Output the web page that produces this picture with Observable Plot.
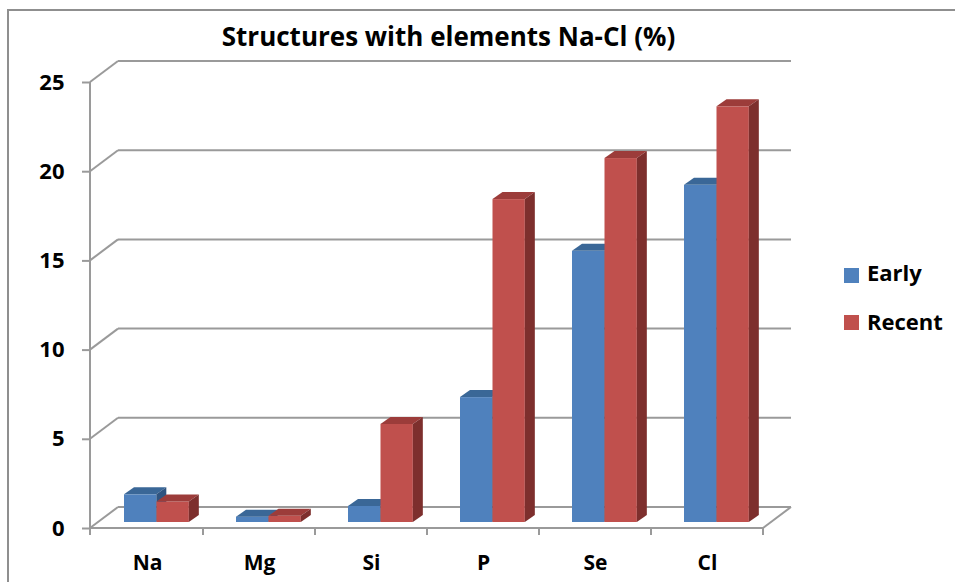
<!DOCTYPE html>
<html>
<head>
<meta charset="utf-8">
<script src="https://cdn.jsdelivr.net/npm/d3@7"></script>
<script src="https://cdn.jsdelivr.net/npm/@observablehq/plot@0.6"></script>
<style>
  body { margin: 0; background: #fff; }
  #wrap { position: relative; width: 955px; height: 582px; overflow: hidden; font-family: "Open Sans", Lato, sans-serif; background: #fff; }
  #wrap svg { position: absolute; left: 0; top: 0; }
  #border { position: absolute; left: 7px; top: 9px; width: 960px; height: 590px; border-left: 2px solid #8f8f8f; border-top: 2px solid #8f8f8f; }
  #title { position: absolute; left: 0; width: 897px; top: 23px; text-align: center; font-weight: 700; font-size: 26px; line-height: 26px; color: #000; }
  .sw { position: absolute; left: 844px; width: 15px; height: 15px; }
  .lg { position: absolute; left: 867px; font-weight: 700; font-size: 22px; line-height: 22px; color: #000; }
</style>
</head>
<body>
<div id="wrap">
  <div id="border"></div>
</div>
<script>
// ---- data ----
const categories = ["Na", "Mg", "Si", "P", "Se", "Cl"];
const seriesNames = ["Early", "Recent"];
const early  = [1.55, 0.3, 0.9, 7.0, 15.2, 18.9];
const recent = [1.15, 0.35, 5.5, 18.1, 20.4, 23.3];
const yTicks = [0, 5, 10, 15, 20, 25];
const titleText = "Structures with elements Na-Cl (%)";

// ---- styling ----
const colors = {
  Early:  {front: "#4F81BD", top: "#3A6797", side: "#2F5480"},
  Recent: {front: "#C0504D", top: "#9C3C3A", side: "#7D2F2D"}
};
const GRID = "#9a9a9a";
const BX = 28, BY = -15;  // back-wall offset (px)
const FY = 6;             // front-axis offset (px)
const DX = 10, DY = -7;   // bar depth (px)
const FONT = "'Open Sans', Lato, sans-serif";

const rows = [];
categories.forEach((c, i) => {
  rows.push({element: c, series: "Early", value: early[i]});
  rows.push({element: c, series: "Recent", value: recent[i]});
});

const W = 955, H = 582, ML = 90, MR = 192, MT = 76, MB = 60;
const bw = (W - ML - MR) / categories.length;

function extrude(name) {
  const col = colors[name];
  return (index, scales, values, dimensions, context, next) => {
    const g = next(index, scales, values, dimensions, context);
    const rects = Array.from(g.querySelectorAll("rect"));
    const ns = "http://www.w3.org/2000/svg";
    for (const r of rects) {
      const x = +r.getAttribute("x"), y = +r.getAttribute("y");
      const w = +r.getAttribute("width"), h = +r.getAttribute("height");
      const top = document.createElementNS(ns, "polygon");
      top.setAttribute("points", `${x},${y} ${x + w},${y} ${x + w + DX},${y + DY} ${x + DX},${y + DY}`);
      top.setAttribute("fill", col.top);
      g.appendChild(top);
      const side = document.createElementNS(ns, "polygon");
      side.setAttribute("points", `${x + w},${y} ${x + w + DX},${y + DY} ${x + w + DX},${y + h + DY} ${x + w},${y + h}`);
      side.setAttribute("fill", col.side);
      g.appendChild(side);
    }
    return g;
  };
}

function frame(index, scales, values, dims) {
  const {x, y} = scales;
  const x0 = dims.marginLeft, x1 = dims.width - dims.marginRight;
  const g = d3.create("svg:g").attr("stroke", GRID).attr("stroke-width", 2).attr("fill", "none");
  const line = (a, b, c, d) => g.append("line").attr("x1", a).attr("y1", b).attr("x2", c).attr("y2", d);
  for (const t of yTicks) {
    line(x0 + BX, y(t) + BY, x1 + BX, y(t) + BY);
    line(x0, y(t) + FY, x0 + BX, y(t) + BY);
  }
  line(x0, y(yTicks[yTicks.length - 1]) + FY, x0, y(0) + FY + 7);
  line(x0, y(0) + FY, x1, y(0) + FY);
  line(x1, y(0) + FY, x1 + BX, y(0) + BY);
  for (const c of categories.slice(1)) line(x(c), y(0) + FY, x(c), y(0) + FY + 7);
  line(x1, y(0) + FY, x1, y(0) + FY + 7);
  return g.node();
}

const chart = Plot.plot({
  width: W, height: H,
  marginLeft: ML, marginRight: MR, marginTop: MT, marginBottom: MB,
  style: {fontFamily: FONT, fontSize: "22px", fontWeight: "bold", color: "#000", background: "transparent"},
  x: {domain: categories, padding: 0},
  y: {domain: [0, 25]},
  marks: [
    frame,
    Plot.barY(rows.filter(d => d.series === "Early"), {
      x: "element", y: "value", fill: colors.Early.front,
      insetLeft: 33, insetRight: bw - 65.5, render: extrude("Early")
    }),
    Plot.barY(rows.filter(d => d.series === "Recent"), {
      x: "element", y: "value", fill: colors.Recent.front,
      insetLeft: 65.5, insetRight: bw - 98, render: extrude("Recent")
    }),
    Plot.axisY(yTicks, {tickSize: 8, tickPadding: 18, dy: FY, stroke: GRID, strokeWidth: 2, fill: "#000", fontSize: 22, fontWeight: "bold", fontFamily: FONT, label: null}),
    Plot.axisX({tickSize: 0, tickPadding: 33, fill: "#000", fontSize: 21, fontWeight: "bold", fontFamily: FONT, label: null})
  ]
});

const wrap = document.getElementById("wrap");
wrap.appendChild(chart);

const title = document.createElement("div");
title.id = "title";
title.textContent = titleText;
wrap.appendChild(title);

seriesNames.forEach((s, i) => {
  const sw = document.createElement("div");
  sw.className = "sw";
  sw.style.top = (268 + i * 47) + "px";
  sw.style.background = colors[s].front;
  wrap.appendChild(sw);
  const t = document.createElement("div");
  t.className = "lg";
  t.style.top = (261 + i * 49) + "px";
  t.textContent = s;
  wrap.appendChild(t);
});
</script>
</body>
</html>
